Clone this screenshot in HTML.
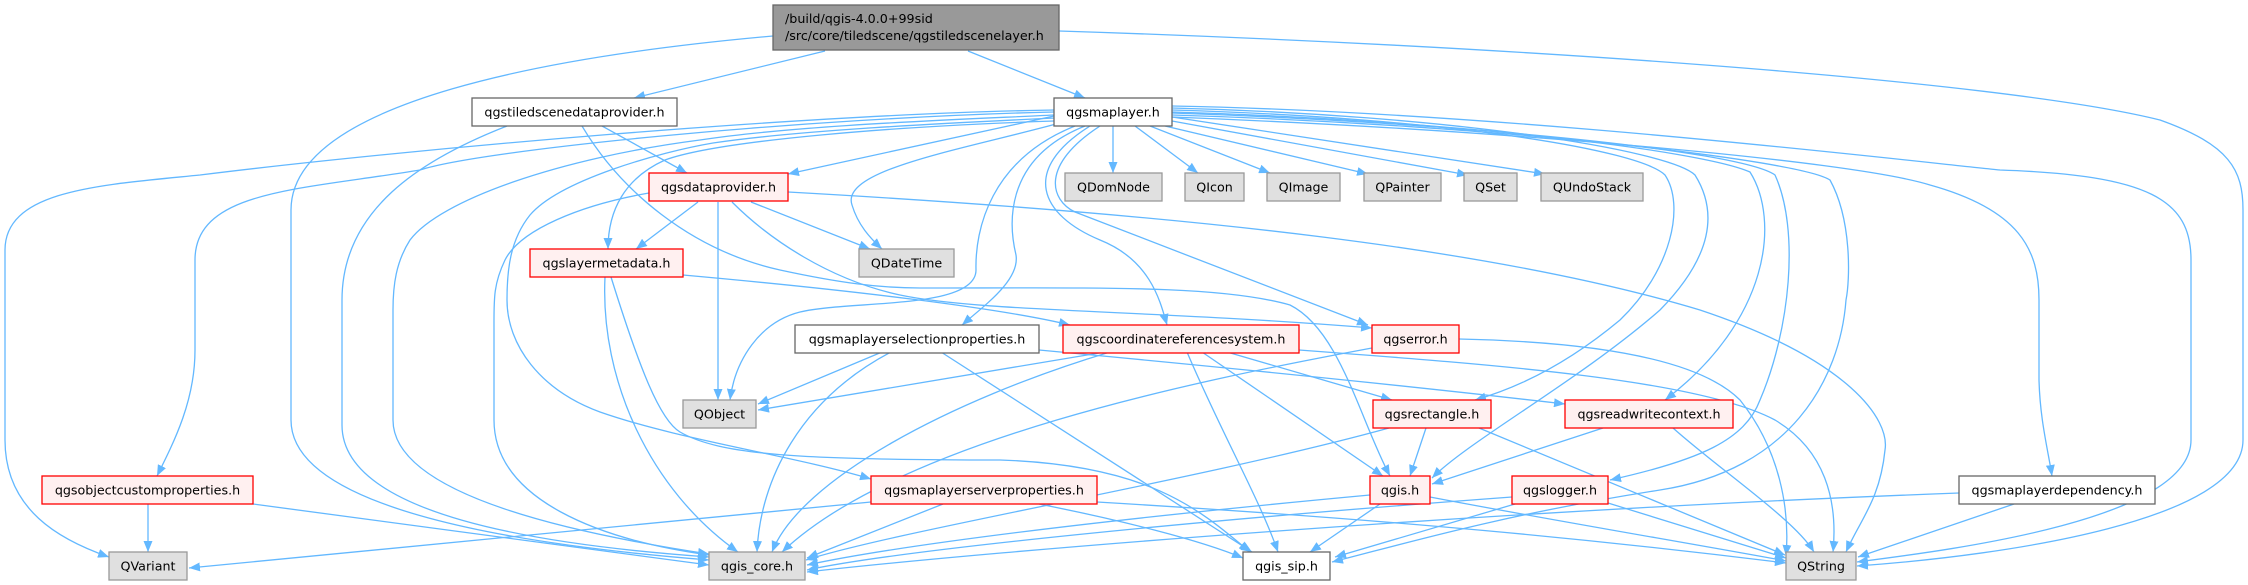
<!DOCTYPE html>
<html>
<head>
<meta charset="utf-8">
<style>
  html, body { margin:0; padding:0; background:#ffffff; }
  body { width:2248px; height:585px; overflow:hidden; }
  svg { display:block; }
  .e { fill:none; stroke:#63b8ff; stroke-width:1.3; marker-end:url(#a); }
  .t { font-family:"DejaVu Sans","Liberation Sans",sans-serif; font-size:12.7px; fill:#000; text-anchor:middle; }
  .tl { font-family:"DejaVu Sans","Liberation Sans",sans-serif; font-size:12.7px; fill:#000; }
  .w { fill:#ffffff; stroke:#666666; stroke-width:1.3; }
  .g { fill:#e0e0e0; stroke:#999999; stroke-width:1.3; }
  .r { fill:#fff0f0; stroke:#ff0000; stroke-width:1.3; }
  .m { fill:#999999; stroke:#666666; stroke-width:1.3; }
</style>
</head>
<body>
<svg width="2248" height="585" viewBox="0 0 2248 585" xmlns="http://www.w3.org/2000/svg">
<defs>
  <marker id="a" markerWidth="11" markerHeight="9" refX="11" refY="4.5" orient="auto" markerUnits="userSpaceOnUse">
    <path d="M0,0 L11,4.5 L0,9 z" fill="#63b8ff"/>
  </marker>
</defs>
<rect x="0" y="0" width="2248" height="585" fill="#ffffff"/>

<!-- edges -->
<g>
<path class="e" d="M825,51 L634,98"/>
<path class="e" d="M968,51 L1085,98"/>
<path class="e" d="M773,36 C560,55 291,100 291,210 L291,420 C291,510 520,545 709,560"/>
<path class="e" d="M1059,31 C1500,45 2000,80 2160,120 C2230,145 2243,170 2243,210 L2243,440 C2243,520 2010,555 1857,566"/>
<path class="e" d="M602,126 L687,173"/>
<path class="e" d="M507,126 C420,160 342,210 342,300 L342,425 C342,515 540,545 709,557"/>
<path class="e" d="M582,126 C620,190 690,250 780,270 C840,283 880,288 920,288 C1100,288 1220,285 1290,305 C1340,330 1360,420 1390,476"/>
<path class="e" d="M1054,116 L788,174"/>
<path class="e" d="M1113,126 L1113,173"/>
<path class="e" d="M1135,126 L1198,173"/>
<path class="e" d="M1150,126 L1270,173"/>
<path class="e" d="M1165,126 L1368,174"/>
<path class="e" d="M1172,121 L1468,175"/>
<path class="e" d="M1172,117 L1545,174"/>
<path class="e" d="M1056,124 C960,150 840,170 852,205 C858,225 870,238 882,249"/>
<path class="e" d="M1054,112 C800,118 480,150 420,170 C300,190 195,190 195,260 L195,350 C195,400 175,440 157,476"/>
<path class="e" d="M1054,110 C800,114 400,150 200,175 C100,185 5,190 5,250 L5,440 C5,510 60,540 109,557"/>
<path class="e" d="M1054,115 C950,120 800,125 700,140 C560,158 440,200 410,240 C396,262 393,285 393,310 L393,420 C393,490 550,530 709,554"/>
<path class="e" d="M1054,118 C950,123 800,130 713,143 C660,152 560,180 530,215 C510,240 507,270 507,300 C507,345 540,390 600,412 C680,440 790,455 871,479"/>
<path class="e" d="M1054,121 C900,126 720,140 665,160 C625,178 608,210 608,249"/>
<path class="e" d="M1075,126 C990,160 975,230 976,270 C976,310 850,300 800,312 C760,322 735,360 730,400"/>
<path class="e" d="M1085,126 C1000,160 1010,230 1016,255 C1020,280 985,305 962,325"/>
<path class="e" d="M1090,126 C1020,170 1040,215 1100,240 C1150,260 1160,300 1167,325"/>
<path class="e" d="M1100,126 C1040,165 1050,200 1075,212 L1368,325"/>
<path class="e" d="M1172,110 C1450,118 1640,150 1665,175 C1685,205 1672,270 1620,320 C1560,370 1510,390 1475,400"/>
<path class="e" d="M1172,108 C1450,115 1670,150 1695,175 C1720,215 1709,260 1660,310 C1580,380 1470,440 1432,478"/>
<path class="e" d="M1172,112 C1450,120 1700,150 1750,172 C1780,220 1770,320 1665,400"/>
<path class="e" d="M1172,113 C1450,122 1740,150 1775,175 C1800,230 1790,330 1760,400 C1745,440 1700,460 1610,480"/>
<path class="e" d="M1172,115 C1500,125 1800,160 1830,180 C1852,220 1850,280 1846,300 C1840,380 1790,470 1660,490 C1500,515 1400,545 1332,562"/>
<path class="e" d="M1172,117 C1500,130 1850,160 1930,185 C2020,210 2039,250 2039,300 L2039,380 C2040,420 2048,450 2052,476"/>
<path class="e" d="M1172,106 C1500,112 1900,160 2000,170 C2150,175 2191,200 2191,260 L2191,440 C2191,520 1950,550 1857,562"/>
<path class="e" d="M698,202 L636,249"/>
<path class="e" d="M718,202 L718,400"/>
<path class="e" d="M751,202 L870,249"/>
<path class="e" d="M788,192 C1200,215 1500,250 1700,310 C1850,360 1890,420 1885,450 C1880,500 1860,520 1846,552"/>
<path class="e" d="M649,193 C580,205 520,230 505,260 C493,285 494,300 494,330 L494,420 C494,500 600,540 709,555"/>
<path class="e" d="M732,202 C770,240 830,280 900,295 C980,312 1150,310 1372,328"/>
<path class="e" d="M683,275 C850,290 1000,308 1070,325"/>
<path class="e" d="M605,277 C600,380 650,490 738,552"/>
<path class="e" d="M611,277 C640,370 660,420 680,432 C720,455 800,460 1000,460 C1150,465 1200,510 1250,552"/>
<path class="e" d="M882,352 L758,404"/>
<path class="e" d="M891,352 C800,400 760,480 757,552"/>
<path class="e" d="M941,352 L1252,552"/>
<path class="e" d="M1039,350 C1200,365 1400,385 1565,404"/>
<path class="e" d="M1105,352 L758,410"/>
<path class="e" d="M1110,352 C950,400 800,480 772,552"/>
<path class="e" d="M1187,352 C1220,430 1260,500 1278,552"/>
<path class="e" d="M1202,352 L1383,476"/>
<path class="e" d="M1227,352 L1392,400"/>
<path class="e" d="M1299,350 C1500,365 1700,380 1775,420 C1825,450 1838,500 1833,552"/>
<path class="e" d="M1372,348 C1200,380 900,440 782,552"/>
<path class="e" d="M1459,339 C1600,342 1700,360 1740,400 C1780,450 1790,510 1786,556"/>
<path class="e" d="M1426,428 L1410,476"/>
<path class="e" d="M1389,428 C1200,480 900,530 806,560"/>
<path class="e" d="M1479,428 L1785,555"/>
<path class="e" d="M1603,428 L1432,484"/>
<path class="e" d="M1673,428 C1720,470 1795,520 1814,552"/>
<path class="e" d="M148,504 L148,552"/>
<path class="e" d="M253,504 L709,565"/>
<path class="e" d="M871,502 L189,568"/>
<path class="e" d="M943,504 L807,558"/>
<path class="e" d="M1039,504 C1120,520 1200,540 1243,558"/>
<path class="e" d="M1097,502 C1400,520 1600,540 1786,563"/>
<path class="e" d="M1370,495 C1100,520 900,545 807,565"/>
<path class="e" d="M1380,504 L1310,552"/>
<path class="e" d="M1430,497 C1550,520 1700,545 1786,561"/>
<path class="e" d="M1512,497 C1200,520 900,550 807,570"/>
<path class="e" d="M1515,504 L1335,557"/>
<path class="e" d="M1608,503 L1786,558"/>
<path class="e" d="M1959,493 C1500,510 1000,550 807,572"/>
<path class="e" d="M2014,504 L1858,557"/>
</g>

<!-- nodes -->
<g>
<rect class="m" x="773" y="5" width="286" height="45"/>
<text class="tl" x="785" y="23">/build/qgis-4.0.0+99sid</text>
<text class="tl" x="785" y="40">/src/core/tiledscene/qgstiledscenelayer.h</text>

<rect class="w" x="472" y="98" width="205" height="28"/>
<text class="t" x="574.5" y="116.5">qgstiledscenedataprovider.h</text>

<rect class="w" x="1054" y="98" width="118" height="28"/>
<text class="t" x="1113" y="116.5">qgsmaplayer.h</text>

<rect class="r" x="649" y="173" width="139" height="28"/>
<text class="t" x="718.5" y="191.5">qgsdataprovider.h</text>

<rect class="g" x="1065" y="173" width="97" height="28"/>
<text class="t" x="1113.5" y="191.5">QDomNode</text>

<rect class="g" x="1185" y="173" width="59" height="28"/>
<text class="t" x="1214.5" y="191.5">QIcon</text>

<rect class="g" x="1267" y="173" width="73" height="28"/>
<text class="t" x="1303.5" y="191.5">QImage</text>

<rect class="g" x="1364" y="173" width="77" height="28"/>
<text class="t" x="1402.5" y="191.5">QPainter</text>

<rect class="g" x="1464" y="173" width="53" height="28"/>
<text class="t" x="1490.5" y="191.5">QSet</text>

<rect class="g" x="1541" y="173" width="102" height="28"/>
<text class="t" x="1592" y="191.5">QUndoStack</text>

<rect class="r" x="530" y="249" width="153" height="28"/>
<text class="t" x="606.5" y="267.5">qgslayermetadata.h</text>

<rect class="g" x="859" y="249" width="95" height="28"/>
<text class="t" x="906.5" y="267.5">QDateTime</text>

<rect class="w" x="795" y="325" width="244" height="28"/>
<text class="t" x="917" y="343.5">qgsmaplayerselectionproperties.h</text>

<rect class="r" x="1063" y="325" width="236" height="28"/>
<text class="t" x="1181" y="343.5">qgscoordinatereferencesystem.h</text>

<rect class="r" x="1372" y="325" width="87" height="28"/>
<text class="t" x="1415.5" y="343.5">qgserror.h</text>

<rect class="g" x="683" y="400" width="73" height="28"/>
<text class="t" x="719.5" y="418.5">QObject</text>

<rect class="r" x="1373" y="400" width="118" height="28"/>
<text class="t" x="1432" y="418.5">qgsrectangle.h</text>

<rect class="r" x="1565" y="400" width="168" height="28"/>
<text class="t" x="1649" y="418.5">qgsreadwritecontext.h</text>

<rect class="r" x="42" y="476" width="211" height="28"/>
<text class="t" x="147.5" y="494.5">qgsobjectcustomproperties.h</text>

<rect class="r" x="871" y="476" width="226" height="28"/>
<text class="t" x="984" y="494.5">qgsmaplayerserverproperties.h</text>

<rect class="r" x="1370" y="476" width="60" height="28"/>
<text class="t" x="1400" y="494.5">qgis.h</text>

<rect class="r" x="1512" y="476" width="96" height="28"/>
<text class="t" x="1560" y="494.5">qgslogger.h</text>

<rect class="w" x="1959" y="476" width="196" height="28"/>
<text class="t" x="2057" y="494.5">qgsmaplayerdependency.h</text>

<rect class="g" x="109" y="552" width="78" height="28"/>
<text class="t" x="148" y="570.5">QVariant</text>

<rect class="g" x="709" y="552" width="96" height="28"/>
<text class="t" x="757" y="570.5">qgis_core.h</text>

<rect class="w" x="1243" y="552" width="87" height="28"/>
<text class="t" x="1286.5" y="570.5">qgis_sip.h</text>

<rect class="g" x="1786" y="552" width="70" height="28"/>
<text class="t" x="1821" y="570.5">QString</text>
</g>
</svg>
</body>
</html>
